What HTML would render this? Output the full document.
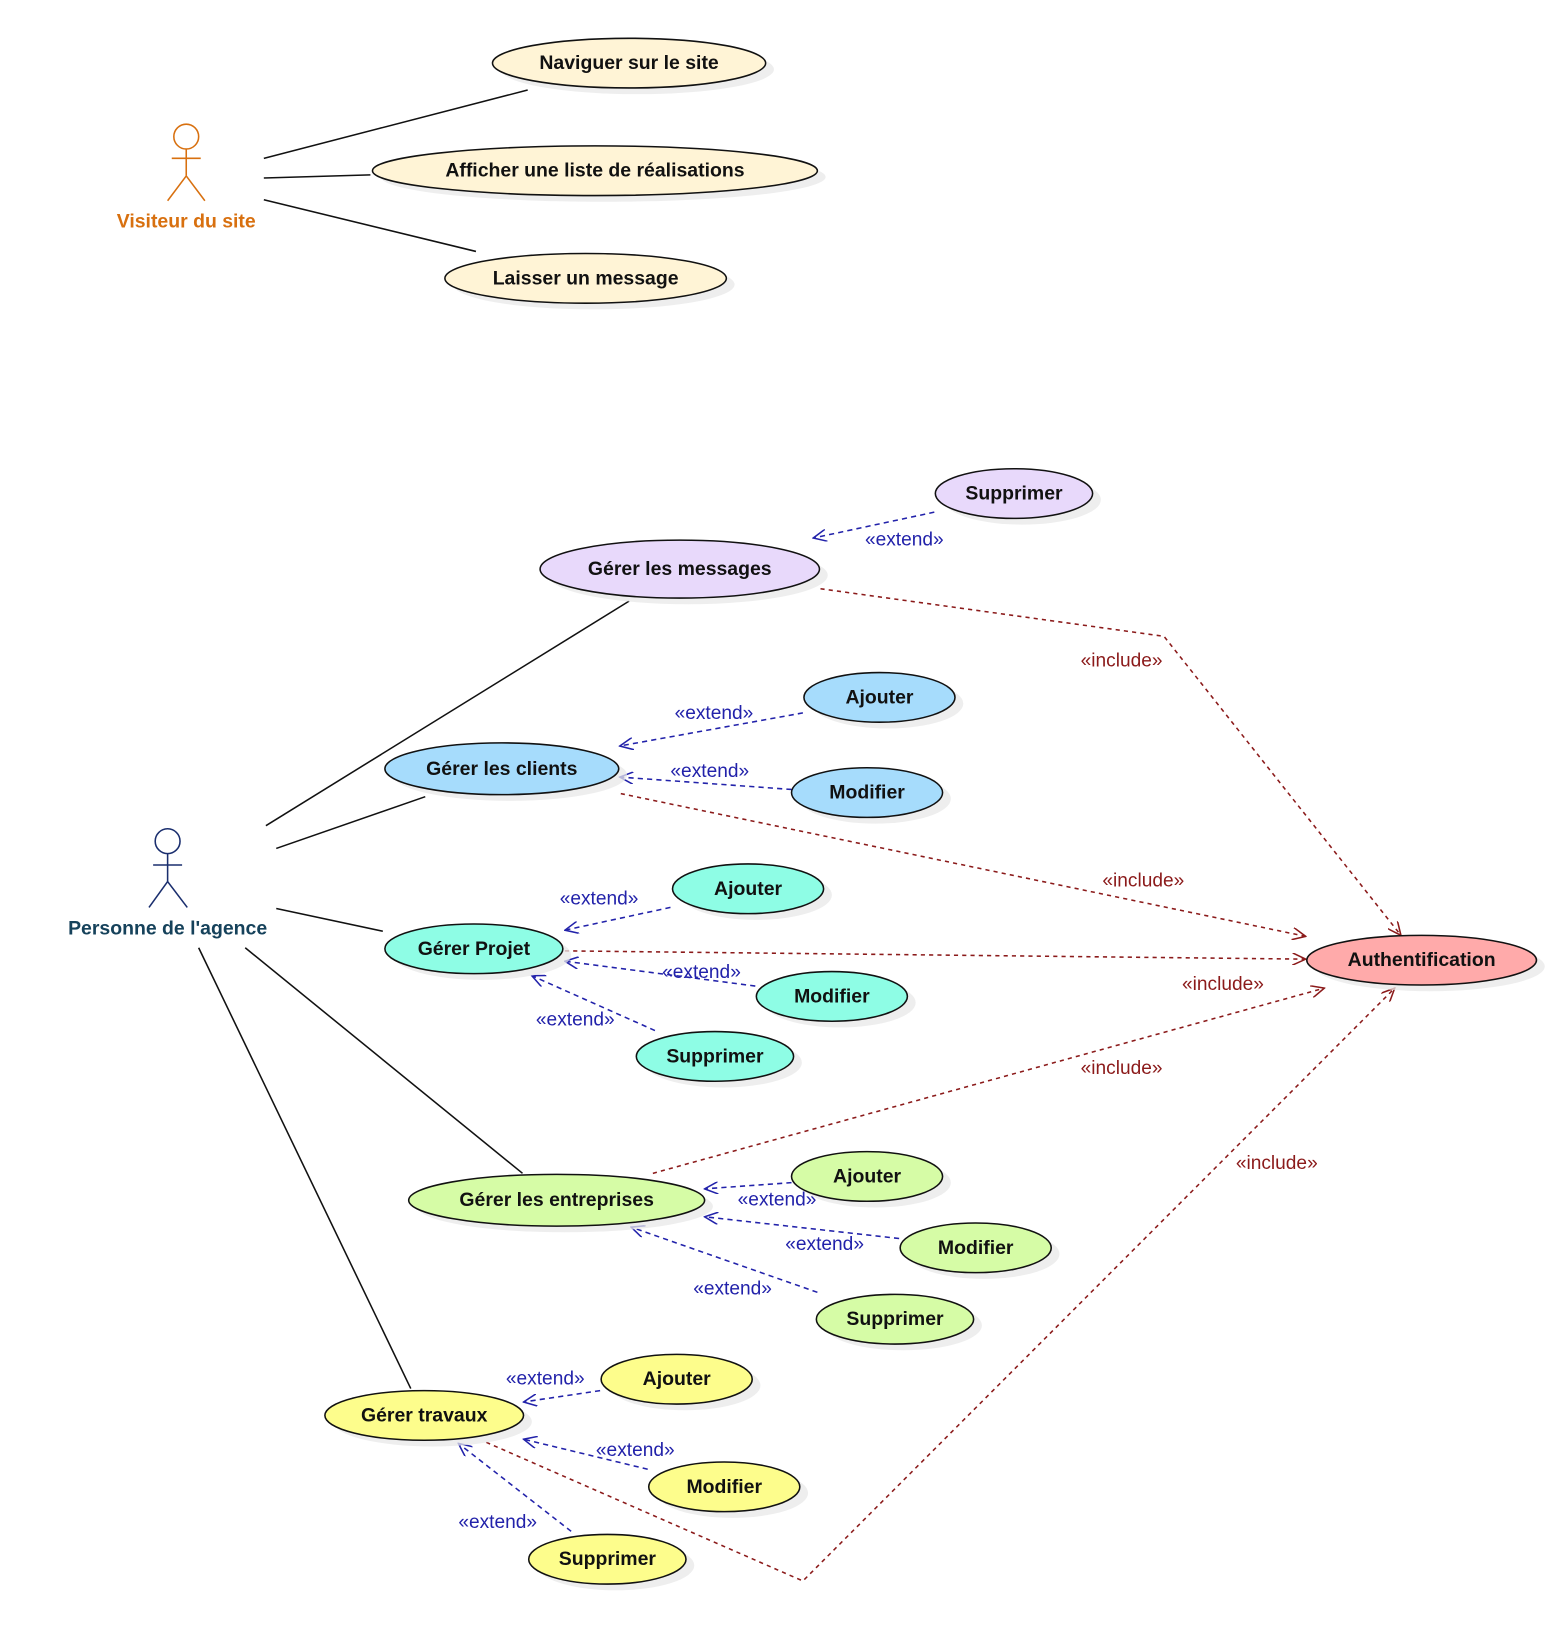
<!DOCTYPE html>
<html><head><meta charset="utf-8"><style>
html,body{margin:0;padding:0;background:#fff}
svg{display:block}
text{font-family:"Liberation Sans",sans-serif}
.uc{font-weight:bold;font-size:18.8px;fill:#111;text-anchor:middle;dominant-baseline:central}
.ex{font-size:18.5px;fill:#2222aa;text-anchor:middle}
.in{font-size:18.5px;fill:#8b1a1a;text-anchor:middle}
.e{stroke:#111;stroke-width:1.5}
.sh{fill:#e8e8e8;opacity:.75}
.bl{stroke:#2222aa;stroke-width:1.5;stroke-dasharray:5,4;fill:none}
.rd{stroke:#8b1a1a;stroke-width:1.5;stroke-dasharray:4,4;fill:none}
.ln{stroke:#111;stroke-width:1.5;fill:none}
</style></head><body>
<svg width="1552" height="1626" viewBox="0 0 1500 1571.5" xmlns="http://www.w3.org/2000/svg">
<defs>
<marker id="ab" markerWidth="14" markerHeight="12" refX="13" refY="6" orient="auto" markerUnits="userSpaceOnUse"><path d="M0,0 L13,6 L0,12" fill="none" stroke="#2222aa" stroke-width="1.5"/></marker>
<marker id="ar" markerWidth="14" markerHeight="12" refX="13" refY="6" orient="auto" markerUnits="userSpaceOnUse"><path d="M0,0 L13,6 L0,12" fill="none" stroke="#8b1a1a" stroke-width="1.5"/></marker>
</defs>

<g stroke="#d8700f" stroke-width="1.5" fill="none">
<circle cx="180" cy="132" r="12"/>
<line x1="180" y1="144" x2="180" y2="170"/>
<line x1="166" y1="153" x2="194" y2="153"/>
<line x1="180" y1="170" x2="162" y2="194"/>
<line x1="180" y1="170" x2="198" y2="194"/>
</g>
<text x="180" y="220" style="font-weight:bold;font-size:18.8px;fill:#d8700f;text-anchor:middle">Visiteur du site</text>

<line class="ln" x1="255" y1="153" x2="510" y2="87"/>
<line class="ln" x1="255" y1="172" x2="358" y2="169"/>
<line class="ln" x1="255" y1="193" x2="460" y2="243"/>

<g stroke="#1a2e6e" stroke-width="1.5" fill="none">
<circle cx="162" cy="813" r="12"/>
<line x1="162" y1="825" x2="162" y2="852"/>
<line x1="148" y1="836" x2="176" y2="836"/>
<line x1="162" y1="852" x2="144" y2="877"/>
<line x1="162" y1="852" x2="181" y2="877"/>
</g>
<text x="162" y="903" style="font-weight:bold;font-size:18.8px;fill:#16425b;text-anchor:middle">Personne de l'agence</text>

<line class="ln" x1="257" y1="798" x2="608" y2="581"/>
<line class="ln" x1="267" y1="820" x2="411" y2="770"/>
<line class="ln" x1="267" y1="878" x2="370" y2="900"/>
<line class="ln" x1="237" y1="916" x2="505" y2="1134"/>
<line class="ln" x1="192" y1="916" x2="397" y2="1342"/>

<polyline class="rd" points="793,569 1125,615 1354,904" marker-end="url(#ar)"/>
<line class="rd" x1="600" y1="767" x2="1262" y2="905" marker-end="url(#ar)"/>
<line class="rd" x1="546" y1="919" x2="1262" y2="927" marker-end="url(#ar)"/>
<line class="rd" x1="631" y1="1134" x2="1280" y2="955" marker-end="url(#ar)"/>
<polyline class="rd" points="470,1394 776,1528 1348,955" marker-end="url(#ar)"/>
<text class="in" x="1084" y="644">«include»</text>
<text class="in" x="1105" y="857">«include»</text>
<text class="in" x="1182" y="957">«include»</text>
<text class="in" x="1084" y="1038">«include»</text>
<text class="in" x="1234" y="1130">«include»</text>

<line class="bl" x1="903" y1="495" x2="786" y2="520" marker-end="url(#ab)"/>
<text class="ex" x="874" y="527">«extend»</text>
<line class="bl" x1="776" y1="689" x2="599" y2="721" marker-end="url(#ab)"/>
<text class="ex" x="690" y="695">«extend»</text>
<line class="bl" x1="765" y1="763" x2="599" y2="751" marker-end="url(#ab)"/>
<text class="ex" x="686" y="751">«extend»</text>
<line class="bl" x1="648" y1="877" x2="546" y2="899" marker-end="url(#ab)"/>
<text class="ex" x="579" y="874">«extend»</text>
<line class="bl" x1="730" y1="953" x2="546" y2="929" marker-end="url(#ab)"/>
<text class="ex" x="678" y="945">«extend»</text>
<line class="bl" x1="633" y1="996" x2="514" y2="943" marker-end="url(#ab)"/>
<text class="ex" x="556" y="991">«extend»</text>
<line class="bl" x1="765" y1="1143" x2="681" y2="1149" marker-end="url(#ab)"/>
<text class="ex" x="751" y="1165">«extend»</text>
<line class="bl" x1="869" y1="1197" x2="681" y2="1176" marker-end="url(#ab)"/>
<text class="ex" x="797" y="1208">«extend»</text>
<line class="bl" x1="790" y1="1249" x2="610" y2="1186" marker-end="url(#ab)"/>
<text class="ex" x="708" y="1251">«extend»</text>
<line class="bl" x1="580" y1="1344" x2="506" y2="1355" marker-end="url(#ab)"/>
<text class="ex" x="527" y="1338">«extend»</text>
<line class="bl" x1="626" y1="1420" x2="506" y2="1391" marker-end="url(#ab)"/>
<text class="ex" x="614" y="1407">«extend»</text>
<line class="bl" x1="552" y1="1480" x2="443" y2="1395" marker-end="url(#ab)"/>
<text class="ex" x="481" y="1477">«extend»</text>

<g>
<ellipse class="sh" cx="616" cy="67" rx="132" ry="24"/><ellipse class="e" cx="608" cy="61" rx="132" ry="24" fill="#fff4d6"/><text class="uc" x="608" y="61">Naviguer sur le site</text>
<ellipse class="sh" cx="583" cy="171" rx="215" ry="24"/><ellipse class="e" cx="575" cy="165" rx="215" ry="24" fill="#fff4d6"/><text class="uc" x="575" y="165">Afficher une liste de réalisations</text>
<ellipse class="sh" cx="574" cy="275" rx="136" ry="24"/><ellipse class="e" cx="566" cy="269" rx="136" ry="24" fill="#fff4d6"/><text class="uc" x="566" y="269">Laisser un message</text>

<ellipse class="sh" cx="988" cy="483" rx="76" ry="24"/><ellipse class="e" cx="980" cy="477" rx="76" ry="24" fill="#e8d9fb"/><text class="uc" x="980" y="477">Supprimer</text>
<ellipse class="sh" cx="665" cy="556" rx="135" ry="28"/><ellipse class="e" cx="657" cy="550" rx="135" ry="28" fill="#e8d9fb"/><text class="uc" x="657" y="550">Gérer les messages</text>

<ellipse class="sh" cx="858" cy="680" rx="73" ry="24"/><ellipse class="e" cx="850" cy="674" rx="73" ry="24" fill="#a6dcfc"/><text class="uc" x="850" y="674">Ajouter</text>
<ellipse class="sh" cx="493" cy="749" rx="113" ry="25"/><ellipse class="e" cx="485" cy="743" rx="113" ry="25" fill="#a6dcfc"/><text class="uc" x="485" y="743">Gérer les clients</text>
<ellipse class="sh" cx="846" cy="772" rx="73" ry="24"/><ellipse class="e" cx="838" cy="766" rx="73" ry="24" fill="#a6dcfc"/><text class="uc" x="838" y="766">Modifier</text>

<ellipse class="sh" cx="731" cy="865" rx="73" ry="24"/><ellipse class="e" cx="723" cy="859" rx="73" ry="24" fill="#8efde5"/><text class="uc" x="723" y="859">Ajouter</text>
<ellipse class="sh" cx="466" cy="923" rx="86" ry="24"/><ellipse class="e" cx="458" cy="917" rx="86" ry="24" fill="#8efde5"/><text class="uc" x="458" y="917">Gérer Projet</text>
<ellipse class="sh" cx="812" cy="969" rx="73" ry="24"/><ellipse class="e" cx="804" cy="963" rx="73" ry="24" fill="#8efde5"/><text class="uc" x="804" y="963">Modifier</text>
<ellipse class="sh" cx="699" cy="1027" rx="76" ry="24"/><ellipse class="e" cx="691" cy="1021" rx="76" ry="24" fill="#8efde5"/><text class="uc" x="691" y="1021">Supprimer</text>

<ellipse class="sh" cx="1382" cy="934" rx="111" ry="24"/><ellipse class="e" cx="1374" cy="928" rx="111" ry="24" fill="#ffaaaa"/><text class="uc" x="1374" y="928">Authentification</text>

<ellipse class="sh" cx="846" cy="1143" rx="73" ry="24"/><ellipse class="e" cx="838" cy="1137" rx="73" ry="24" fill="#d6fca6"/><text class="uc" x="838" y="1137">Ajouter</text>
<ellipse class="sh" cx="546" cy="1166" rx="143" ry="25"/><ellipse class="e" cx="538" cy="1160" rx="143" ry="25" fill="#d6fca6"/><text class="uc" x="538" y="1160">Gérer les entreprises</text>
<ellipse class="sh" cx="951" cy="1212" rx="73" ry="24"/><ellipse class="e" cx="943" cy="1206" rx="73" ry="24" fill="#d6fca6"/><text class="uc" x="943" y="1206">Modifier</text>
<ellipse class="sh" cx="873" cy="1281" rx="76" ry="24"/><ellipse class="e" cx="865" cy="1275" rx="76" ry="24" fill="#d6fca6"/><text class="uc" x="865" y="1275">Supprimer</text>

<ellipse class="sh" cx="662" cy="1339" rx="73" ry="24"/><ellipse class="e" cx="654" cy="1333" rx="73" ry="24" fill="#fdfd8c"/><text class="uc" x="654" y="1333">Ajouter</text>
<ellipse class="sh" cx="418" cy="1374" rx="96" ry="24"/><ellipse class="e" cx="410" cy="1368" rx="96" ry="24" fill="#fdfd8c"/><text class="uc" x="410" y="1368">Gérer travaux</text>
<ellipse class="sh" cx="708" cy="1443" rx="73" ry="24"/><ellipse class="e" cx="700" cy="1437" rx="73" ry="24" fill="#fdfd8c"/><text class="uc" x="700" y="1437">Modifier</text>
<ellipse class="sh" cx="595" cy="1513" rx="76" ry="24"/><ellipse class="e" cx="587" cy="1507" rx="76" ry="24" fill="#fdfd8c"/><text class="uc" x="587" y="1507">Supprimer</text>
</g>
</svg>
</body></html>
